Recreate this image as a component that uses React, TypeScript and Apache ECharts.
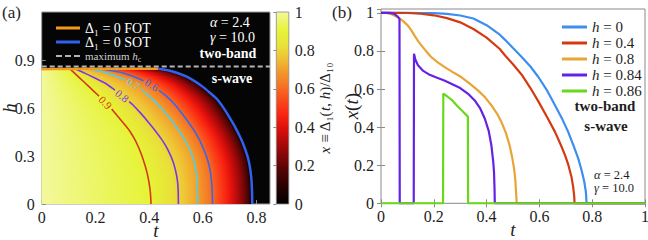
import React, { useEffect, useRef } from "react";
import * as echarts from "echarts";

// ---------------- Panel (a): lines read from the (t, h) map ----------------
// each array: [t, h] points, ordered from the top (h = h_c) downwards
const fotLine = [[0, 0.842], [0.1, 0.844], [0.2, 0.846], [0.3, 0.846], [0.435, 0.845]];
const sotLine = [[0.435, 0.845], [0.47, 0.836], [0.5, 0.822], [0.54, 0.796], [0.572, 0.765], [0.6, 0.732], [0.625, 0.697], [0.65, 0.66], [0.667, 0.625], [0.683, 0.585], [0.698, 0.545], [0.712, 0.505], [0.725, 0.465], [0.737, 0.425], [0.748, 0.385], [0.757, 0.345], [0.765, 0.305], [0.772, 0.26], [0.777, 0.21], [0.781, 0.15], [0.783, 0.08], [0.784, 0]];
const contour09 = [[0.105, 0.845], [0.14, 0.79], [0.175, 0.735], [0.208, 0.683], [0.237, 0.634], [0.265, 0.585], [0.29, 0.535], [0.312, 0.49], [0.33, 0.45], [0.346, 0.405], [0.36, 0.356], [0.372, 0.306], [0.384, 0.245], [0.393, 0.19], [0.4, 0.13], [0.405, 0.065], [0.407, 0]];
const contour08 = [[0.123, 0.845], [0.16, 0.818], [0.2, 0.786], [0.241, 0.75], [0.27, 0.715], [0.298, 0.678], [0.32, 0.648], [0.34, 0.619], [0.37, 0.565], [0.398, 0.51], [0.422, 0.46], [0.444, 0.41], [0.463, 0.36], [0.478, 0.31], [0.49, 0.26], [0.499, 0.205], [0.505, 0.15], [0.508, 0.09], [0.509, 0]];
const contour07 = [[0.17, 0.845], [0.23, 0.825], [0.29, 0.79], [0.345, 0.75], [0.39, 0.69], [0.425, 0.635], [0.455, 0.58], [0.482, 0.525], [0.504, 0.475], [0.524, 0.425], [0.541, 0.375], [0.555, 0.325], [0.566, 0.275], [0.573, 0.22], [0.578, 0.16], [0.58, 0.09], [0.581, 0]];
const contour06 = [[0.217, 0.845], [0.3, 0.82], [0.36, 0.785], [0.41, 0.745], [0.46, 0.68], [0.497, 0.619], [0.525, 0.56], [0.549, 0.505], [0.569, 0.455], [0.586, 0.405], [0.6, 0.355], [0.612, 0.305], [0.622, 0.25], [0.629, 0.19], [0.633, 0.13], [0.635, 0.07], [0.636, 0]];
const contourLevels = [0.9, 0.8, 0.7, 0.6];
const contourLabelH = [0.634, 0.676, 0.752, 0.745];
const maxHc = 0.86;
const fotTopH = 0.845;

// ---------------- Panel (b): x(t) curves, [t, x] ----------------
const xH0 = [[0, 1], [0.1, 1], [0.15, 0.999], [0.2, 0.998], [0.25, 0.994], [0.3, 0.986], [0.35, 0.97], [0.4, 0.935], [0.45, 0.885], [0.47, 0.858], [0.5, 0.815], [0.533, 0.768], [0.566, 0.718], [0.596, 0.663], [0.63, 0.59], [0.659, 0.515], [0.685, 0.447], [0.709, 0.375], [0.73, 0.3], [0.747, 0.236], [0.76, 0.172], [0.77, 0.113], [0.776, 0.06], [0.779, 0], [1, 0]];
const xH04 = [[0, 1], [0.1, 0.999], [0.15, 0.995], [0.2, 0.987], [0.25, 0.972], [0.3, 0.95], [0.35, 0.915], [0.4, 0.87], [0.45, 0.81], [0.47, 0.776], [0.5, 0.73], [0.533, 0.675], [0.566, 0.605], [0.596, 0.535], [0.63, 0.45], [0.659, 0.375], [0.68, 0.31], [0.697, 0.253], [0.71, 0.2], [0.722, 0.135], [0.728, 0.085], [0.732, 0.035], [0.733, 0], [1, 0]];
const xH08 = [[0, 1], [0.02, 0.999], [0.04, 0.993], [0.064, 0.977], [0.085, 0.955], [0.102, 0.933], [0.115, 0.908], [0.127, 0.88], [0.14, 0.853], [0.153, 0.829], [0.17, 0.8], [0.19, 0.768], [0.215, 0.74], [0.241, 0.715], [0.27, 0.69], [0.304, 0.663], [0.335, 0.63], [0.367, 0.593], [0.395, 0.555], [0.418, 0.515], [0.44, 0.47], [0.456, 0.427], [0.473, 0.37], [0.487, 0.305], [0.497, 0.24], [0.504, 0.183], [0.509, 0.12], [0.512, 0.05], [0.514, 0], [1, 0]];
const xH084 = [[0, 1], [0.03, 1], [0.045, 0.997], [0.055, 0.99], [0.063, 0.98], [0.07, 0.968], [0.071, 0], [0.124, 0], [0.125, 0.785], [0.13, 0.755], [0.14, 0.725], [0.16, 0.695], [0.18, 0.678], [0.21, 0.66], [0.24, 0.645], [0.27, 0.625], [0.3, 0.605], [0.33, 0.575], [0.355, 0.54], [0.375, 0.5], [0.393, 0.445], [0.408, 0.38], [0.418, 0.305], [0.425, 0.22], [0.428, 0.165], [0.43, 0.08], [0.431, 0], [1, 0]];
const xH086 = [[0, 0], [0.235, 0], [0.236, 0.576], [0.25, 0.562], [0.27, 0.54], [0.29, 0.51], [0.31, 0.482], [0.329, 0.455], [0.33, 0], [1, 0]];
const hNames = ["0", "0.4", "0.8", "0.84", "0.86"];

// ---------------- layout / style ----------------
const SERIF = "Liberation Serif, DejaVu Serif, serif";
const INK = "#1e1e1e";
const A = { left: 41.7, top: 12, width: 228.3, height: 192 };
const T_MAX_A = 0.85;
const H_MAX = 1.2;
const CB = { left: 276.3, top: 12, width: 12.5, height: 192 };
const B = { left: 381, top: 9, width: 264, height: 194.3 };
const contourColors = ["#d4381a", "#7a34ee", "#52cfe6", "#3a66ea"];
const C_FOT = "#f39a1c";
const C_SOT = "#2f62f0";
const curveColors = ["#3c8ef0", "#d43a12", "#e8a434", "#6422e6", "#68d81a"];
const DASH_ICON = "path://M0,0h6v2h-6z M9,0h6v2h-6z M18,0h6v2h-6z";

const CMAP: [number, string][] = [
  [0, "#000000"], [0.1, "#2c0202"], [0.2, "#620505"], [0.3, "#a20909"], [0.4, "#e0100c"],
  [0.47, "#fb2612"], [0.55, "#f94e1c"], [0.62, "#f57624"], [0.7, "#f29e2c"], [0.76, "#efc234"],
  [0.82, "#e9e039"], [0.9, "#e6f336"], [0.95, "#ecf666"], [1, "#f3f89c"],
];

function hexRgb(h: string) {
  return [parseInt(h.slice(1, 3), 16), parseInt(h.slice(3, 5), 16), parseInt(h.slice(5, 7), 16)];
}
function cmap(v: number) {
  v = Math.max(0, Math.min(1, v));
  for (let i = 1; i < CMAP.length; i++) {
    if (v <= CMAP[i][0]) {
      const [v0, c0] = CMAP[i - 1];
      const [v1, c1] = CMAP[i];
      const f = (v - v0) / (v1 - v0);
      const a = hexRgb(c0), b = hexRgb(c1);
      return `rgb(${Math.round(a[0] + f * (b[0] - a[0]))},${Math.round(a[1] + f * (b[1] - a[1]))},${Math.round(a[2] + f * (b[2] - a[2]))})`;
    }
  }
  return CMAP[CMAP.length - 1][1];
}
// t on a contour (ordered by descending h) at height h
function tAt(curve: number[][], h: number) {
  if (h >= curve[0][1]) return curve[0][0];
  for (let i = 1; i < curve.length; i++) {
    const [t1, h1] = curve[i - 1];
    const [t2, h2] = curve[i];
    if (h <= h1 && h >= h2) {
      const f = h1 === h2 ? 0 : (h1 - h) / (h1 - h2);
      return t1 + f * (t2 - t1);
    }
  }
  return curve[curve.length - 1][0];
}
// value of an x(t) curve at t
function xAt(curve: number[][], t: number) {
  for (let i = 1; i < curve.length; i++) {
    const [t1, x1] = curve[i - 1];
    const [t2, x2] = curve[i];
    if (t <= t2) return t2 === t1 ? x2 : x1 + ((t - t1) / (t2 - t1)) * (x2 - x1);
  }
  return curve[curve.length - 1][1];
}
// shape of the h = 0 curve below x = 0.6 (shades the map between the 0.6 contour and the SOT line)
let t6h0 = 0, tbh0 = 0;
for (let i = 1; i < xH0.length; i++) {
  if (!t6h0 && xH0[i - 1][1] >= 0.6 && xH0[i][1] < 0.6) {
    const [t1, x1] = xH0[i - 1];
    const [t2, x2] = xH0[i];
    t6h0 = t1 + ((x1 - 0.6) / (x1 - x2)) * (t2 - t1);
  }
  if (!tbh0 && xH0[i][1] === 0) tbh0 = xH0[i][0];
}
const contours = [contour09, contour08, contour07, contour06];
function field(t: number, h: number) {
  const ts = contours.map((c) => tAt(c, h));
  const tb = tAt(sotLine, h);
  const knots = [[0, 1], ...ts.map((tt, i) => [tt, contourLevels[i]])];
  if (t <= ts[3]) {
    for (let i = 1; i < knots.length; i++) {
      if (t <= knots[i][0]) {
        const f = (t - knots[i - 1][0]) / (knots[i][0] - knots[i - 1][0] || 1);
        return knots[i - 1][1] + f * (knots[i][1] - knots[i - 1][1]);
      }
    }
  }
  const s = (t - ts[3]) / (tb - ts[3]);
  return xAt(xH0, t6h0 + s * (tbh0 - t6h0));
}

// contour lines with a gap for their labels
const SX = A.width / T_MAX_A;
const SY = A.height / H_MAX;
const GAP = 9;
function withGap(curve: number[][], hL: number) {
  const tL = tAt(curve, hL);
  const dist = (h: number) => Math.hypot((tAt(curve, h) - tL) * SX, (h - hL) * SY);
  let hHi = hL;
  while (hHi < curve[0][1] && dist(hHi) < GAP) hHi += 0.0005;
  let hLo = hL;
  while (hLo > 0 && dist(hLo) < GAP) hLo -= 0.0005;
  const data: number[][] = [];
  curve.forEach((p) => { if (p[1] > hHi) data.push(p); });
  data.push([tAt(curve, hHi), hHi], [NaN, NaN], [tAt(curve, hLo), hLo]);
  curve.forEach((p) => { if (p[1] < hLo) data.push(p); });
  const rot = -Math.atan2((hHi - hLo) * SY, (tAt(curve, hLo) - tAt(curve, hHi)) * SX);
  return { data, rot, t: tL };
}
const gapped = contours.map((c, i) => withGap(c, contourLabelH[i]));

// map rows, from the top down (each row overlaps the next one so no seams show)
const ROW = 0.005;
const rows: number[][] = [];
for (let h = fotTopH - ROW; h > -ROW / 2; h -= ROW) rows.push([0, Math.max(0, h)]);

export default function App() {
  const ref = useRef<HTMLDivElement>(null);
  useEffect(() => {
    document.body.style.margin = "0";
    const chart = echarts.init(ref.current!, undefined, { renderer: "svg" });
    const lbl = { color: INK, fontFamily: SERIF, fontSize: 16 };
    const tick = { inside: true, length: 4, lineStyle: { color: "#8a8a8a" } };
    const it = { fontStyle: "italic", fontFamily: SERIF };
    const rt = (fill: string, size: number) => ({ i: { fontStyle: "italic", fontSize: size, fontFamily: SERIF, fill } });
    const gridBase = { containLabel: false, outerBoundsMode: "none" };
    const nm = { nameLocation: "middle", nameMoveOverlap: false };
    const option: any = {
      animation: false,
      textStyle: { fontFamily: SERIF },
      grid: [
        { ...gridBase, left: A.left, top: A.top, width: A.width, height: A.height, show: true, backgroundColor: "#050505", borderColor: "#9a9a9a", borderWidth: 1 },
        { ...gridBase, left: CB.left, top: CB.top, width: CB.width, height: CB.height, show: false },
        { ...gridBase, left: B.left, top: B.top, width: B.width, height: B.height, show: true, backgroundColor: "#ffffff", borderColor: "#8a8a8a", borderWidth: 1 },
      ],
      xAxis: [
        { gridIndex: 0, type: "value", min: 0, max: T_MAX_A, interval: 0.2, axisLine: { show: false }, axisTick: tick, splitLine: { show: false }, axisLabel: { ...lbl, showMaxLabel: false, margin: 5 }, name: "t", ...nm, nameGap: 17, nameTextStyle: { ...it, fontSize: 19, color: INK } },
        { gridIndex: 1, type: "value", min: 0, max: 1, show: false },
        { gridIndex: 2, type: "value", min: 0, max: 1, interval: 0.2, axisLine: { show: false }, axisTick: tick, splitLine: { show: false }, axisLabel: { ...lbl, margin: 5 }, name: "t", ...nm, nameGap: 17, nameTextStyle: { ...it, fontSize: 19, color: INK } },
        { gridIndex: 2, type: "value", min: 0, max: 1, interval: 0.2, position: "top", axisLine: { show: false }, axisTick: tick, splitLine: { show: false }, axisLabel: { show: false } },
      ],
      yAxis: [
        { gridIndex: 0, type: "value", min: 0, max: H_MAX, interval: 0.3, axisLine: { show: false }, axisTick: tick, splitLine: { show: false }, axisLabel: { ...lbl, showMaxLabel: false, margin: 7 }, name: "h", ...nm, nameRotate: 90, nameGap: 23, nameTextStyle: { ...it, fontSize: 19, color: INK } },
        { gridIndex: 1, type: "value", min: 0, max: 1, interval: 0.2, position: "right", axisLine: { show: false }, axisTick: { inside: true, length: 3, lineStyle: { color: "#8a8a8a" } }, splitLine: { show: false }, axisLabel: { ...lbl, margin: 6 }, name: "{i|x} ≡ Δ₁({i|t}, {i|h})/Δ₁₀", ...nm, nameRotate: 90, nameGap: 29, nameTextStyle: { fontSize: 15, color: INK, fontFamily: SERIF, rich: { i: { ...it, fontSize: 15, color: INK } } } },
        { gridIndex: 2, type: "value", min: 0, max: 1.02, interval: 0.2, axisLine: { show: false }, axisTick: tick, splitLine: { show: false }, axisLabel: { ...lbl, showMaxLabel: false, margin: 7 }, name: "{i|x}({i|t})", ...nm, nameRotate: 90, nameGap: 20, nameTextStyle: { fontSize: 19, color: INK, fontFamily: SERIF, rich: { i: { ...it, fontSize: 19, color: INK } } } },
        { gridIndex: 2, type: "value", min: 0, max: 1.02, interval: 0.2, position: "right", axisLine: { show: false }, axisTick: tick, splitLine: { show: false }, axisLabel: { show: false } },
      ],
      legend: [
        {
          data: [{ name: "FOT", icon: "rect" }, { name: "SOT", icon: "rect" }, { name: "maxhc", icon: DASH_ICON }],
          orient: "vertical", left: 51, top: 16, itemWidth: 24, itemHeight: 3, itemGap: 0, selectedMode: false,
          textStyle: { color: "#ffffff", fontFamily: SERIF, fontSize: 14, lineHeight: 14, rich: { g: { color: "#cfcfcf", fontSize: 11, fontFamily: SERIF, lineHeight: 14 }, gi: { color: "#cfcfcf", fontSize: 11, fontStyle: "italic", fontFamily: SERIF, lineHeight: 14 }, gs: { color: "#cfcfcf", fontSize: 8, fontFamily: SERIF, lineHeight: 11, verticalAlign: "bottom" } } },
          formatter: (n: string) => (n === "FOT" ? "Δ₁ = 0 FOT" : n === "SOT" ? "Δ₁ = 0 SOT" : "{g|maximum }{gi|h}{gs|c}"),
        },
        {
          data: hNames.map((n) => ({ name: "h=" + n, icon: "rect" })),
          orient: "vertical", left: 557, top: 14, itemWidth: 25, itemHeight: 3, itemGap: 0, selectedMode: false,
          textStyle: { color: INK, fontFamily: SERIF, fontSize: 15, lineHeight: 16, rich: { i: { ...it, fontSize: 15, color: INK } } },
          formatter: (n: string) => "{i|h} = " + n.slice(2),
        },
      ],
      graphic: [
        { type: "text", x: 2, y: 12, style: { text: "(a)", font: `17px ${SERIF}`, fill: INK, verticalAlign: "middle" } },
        { type: "text", x: 332, y: 12, style: { text: "(b)", font: `17px ${SERIF}`, fill: INK, verticalAlign: "middle" } },
        { type: "text", x: 210, y: 30, style: { text: "{i|α} = 2.4\n{i|γ} = 10.0", font: `14px ${SERIF}`, lineHeight: 14.5, fill: "#fff", verticalAlign: "middle", rich: rt("#fff", 14) } },
        { type: "text", x: 228, y: 53, style: { text: "two-band", font: `bold 14px ${SERIF}`, fill: "#fff", align: "center", verticalAlign: "middle" } },
        { type: "text", x: 232, y: 78, style: { text: "s-wave", font: `bold 14px ${SERIF}`, fill: "#fff", align: "center", verticalAlign: "middle" } },
        { type: "text", x: 605, y: 106, style: { text: "two-band", font: `bold 15px ${SERIF}`, fill: INK, align: "center", verticalAlign: "middle" } },
        { type: "text", x: 606, y: 125.5, style: { text: "s-wave", font: `bold 15px ${SERIF}`, fill: INK, align: "center", verticalAlign: "middle" } },
        { type: "text", x: 594, y: 181.5, style: { text: "{i|α} = 2.4\n{i|γ} = 10.0", font: `12.5px ${SERIF}`, lineHeight: 13.5, fill: INK, verticalAlign: "middle", rich: rt(INK, 12.5) } },
      ],
      series: [
        {
          type: "custom", xAxisIndex: 0, yAxisIndex: 0, silent: true, clip: true, data: rows,
          renderItem: (_p: any, api: any) => {
            const h0 = api.value(1);
            const h1 = Math.min(h0 + ROW, fotTopH);
            const hm = (h0 + h1) / 2;
            const tb = tAt(sotLine, hm);
            const pTop = api.coord([0, h1]);
            const pBot = api.coord([tb, h0]);
            const stops = [];
            const N = 60;
            for (let k = 0; k <= N; k++) stops.push({ offset: k / N, color: cmap(field((k / N) * tb, hm)) });
            return {
              type: "rect",
              shape: { x: pTop[0], y: pTop[1], width: pBot[0] - pTop[0], height: pBot[1] - pTop[1] + 1.6 },
              style: { fill: { type: "linear", x: 0, y: 0, x2: 1, y2: 0, colorStops: stops } },
            };
          },
        },
        ...gapped.map((g, i) => ({ type: "line", xAxisIndex: 0, yAxisIndex: 0, data: g.data, symbol: "none", smooth: 0.2, silent: true, connectNulls: false, lineStyle: { color: contourColors[i], width: 1.6 } })),
        {
          type: "custom", xAxisIndex: 0, yAxisIndex: 0, silent: true,
          data: gapped.map((g, i) => [g.t, contourLabelH[i], i]),
          renderItem: (_p: any, api: any) => {
            const i = api.value(2);
            const p = api.coord([api.value(0), api.value(1)]);
            return { type: "text", x: p[0], y: p[1], rotation: gapped[i].rot, style: { text: String(contourLevels[i]), fill: contourColors[i], font: `11px ${SERIF}`, align: "center", verticalAlign: "middle" } };
          },
        },
        { name: "FOT", type: "line", xAxisIndex: 0, yAxisIndex: 0, data: fotLine, symbol: "none", smooth: 0.2, silent: true, lineStyle: { color: C_FOT, width: 2.5 }, itemStyle: { color: C_FOT } },
        { name: "SOT", type: "line", xAxisIndex: 0, yAxisIndex: 0, data: sotLine, symbol: "none", smooth: 0.2, silent: true, lineStyle: { color: C_SOT, width: 2.5 }, itemStyle: { color: C_SOT } },
        { name: "maxhc", type: "line", xAxisIndex: 0, yAxisIndex: 0, data: [[0, maxHc], [T_MAX_A, maxHc]], symbol: "none", silent: true, lineStyle: { color: "#b4b4b4", width: 2, type: [5, 3] }, itemStyle: { color: "#b4b4b4" } },
        {
          type: "custom", xAxisIndex: 1, yAxisIndex: 1, silent: true, data: [[0, 0]],
          renderItem: (_p: any, api: any) => {
            const a = api.coord([0, 1]);
            const b = api.coord([1, 0]);
            const stops = [];
            for (let k = 0; k <= 50; k++) stops.push({ offset: k / 50, color: cmap(k / 50) });
            return { type: "rect", shape: { x: a[0], y: a[1], width: b[0] - a[0], height: b[1] - a[1] }, style: { fill: { type: "linear", x: 0, y: 1, x2: 0, y2: 0, colorStops: stops }, stroke: "#8a8a8a", lineWidth: 0.8 } };
          },
        },
        ...[xH0, xH04, xH08, xH084, xH086].map((d, i) => ({ name: "h=" + hNames[i], type: "line", xAxisIndex: 2, yAxisIndex: 2, data: d, symbol: "none", silent: true, lineStyle: { color: curveColors[i], width: 2.2 }, itemStyle: { color: curveColors[i] } })),
      ],
    };
    chart.setOption(option);
    return () => chart.dispose();
  }, []);
  return <div ref={ref} style={{ width: 648, height: 240 }} />;
}
